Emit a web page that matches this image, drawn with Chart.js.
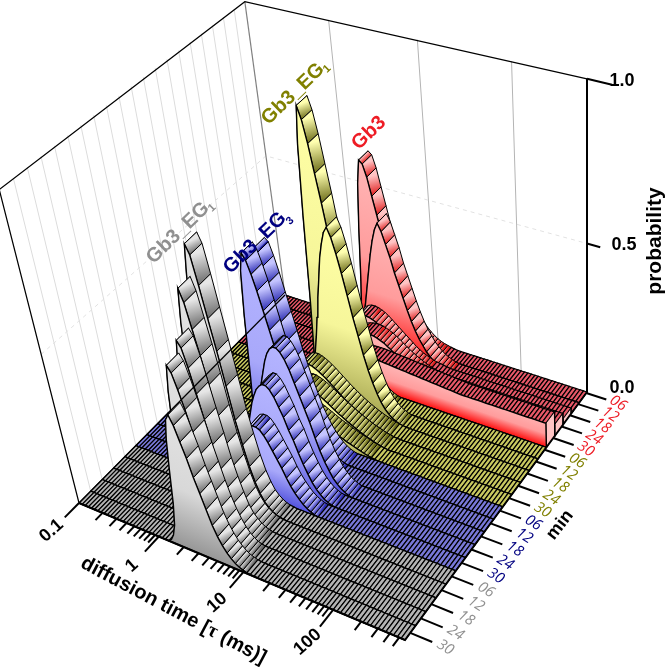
<!DOCTYPE html>
<html>
<head>
<meta charset="utf-8">
<title>diffusion time waterfall</title>
<script src="https://cdn.jsdelivr.net/npm/chart.js@4"></script>
<style>
html, body { margin: 0; padding: 0; background: #fff; }
canvas { display: block; }
</style>
</head>
<body>
<canvas id="waterfall" width="666" height="667"></canvas>
<script>
// correlator lag times (ms), one channel per face of a ribbon
const tauGrid = [
    0.100,0.110,0.120,0.132,0.145,0.158,0.174,0.191,0.209,0.229,0.251,0.275,0.302,0.331,0.363,0.398,0.437,0.479,0.525,0.575,0.631,0.692,0.759,0.832,0.912,
    1.00,1.10,1.20,1.32,1.45,1.58,1.74,1.91,2.09,2.29,2.51,2.75,3.02,3.31,3.63,3.98,4.37,4.79,5.25,5.75,6.31,6.92,7.59,8.32,9.12,
    10.0,11.0,12.0,13.2,14.5,15.8,17.4,19.1,20.9,22.9,25.1,27.5,30.2,33.1,36.3,39.8,43.7,47.9,52.5,57.5,63.1,69.2,75.9,83.2,91.2,
    100,110,120,132,145,158,174,191,209,229,251,275,302,331,363,398,437,479,525,575
];

const groupNames = ["Gb3", "Gb3_EG", "Gb3_EG", "Gb3_EG"];
const groupSubs = ["", "1", "3", "1"];
const minLabels = ["06", "12", "18", "24", "30"];
const tauMajor = [0.1, 1, 10, 100];
const tauMinor = [0.2,0.3,0.4,0.5,0.6,0.7,0.8,0.9,2,3,4,5,6,7,8,9,20,30,40,50,60,70,80,90,200,300,400,500];
const probTicks = ["0.0", "0.5", "1.0"];

// probability per channel; each list begins at the channel in seriesStart, and holds its last value to the end
const red06 = [.02,.06,.19,.38,.53,.61,.6,.56,.5,.44,.38,.32,.27,.22,.18,.14,.11,.085,.065,.05,.038,.028,.02,.014,.01,.007,.004,.002,0];
const red12 = [.01,.02,.04,.07,.11,.16,.22,.28,.34,.39,.43,.455,.43,.39,.35,.3,.26,.22,.18,.145,.115,.09,.07,.052,.038,.027,.018,.012,.007,.003,0];
const red18 = [.01,.03,.06,.09,.115,.135,.148,.156,.16,.16,.158,.154,.148,.14,.13,.12,.11,.1,.09,.08,.07,.06,.052,.045,.04,.035,.031,.028,.026,.024,.022,.02];
const red24 = [.01,.03,.06,.09,.11,.125,.135,.14,.143,.145,.145,.143,.14,.135,.13,.122,.114,.105,.096,.088,.08,.073,.067,.061,.056,.052,.048,.045,.042,.04];
const red30 = [.02,.05,.08,.095,.103,.107,.109,.11,.11,.11,.109,.108,.107,.106,.105,.104,.103,.102,.101,.1,.099,.098,.097,.096,.095,.094,.093,.092,.091,.09,.089,.088,.087,.086,.085];
const olive06 = [.03,.09,.29,.58,.81,.93,.89,.82,.73,.64,.54,.45,.37,.29,.22,.16,.12,.085,.06,.04,.026,.015,.008,.003,0];
const olive12 = [.01,.02,.04,.07,.11,.16,.22,.29,.36,.43,.5,.55,.59,.61,.58,.53,.47,.4,.33,.27,.21,.16,.12,.085,.06,.04,.026,.016,.009,.004,.001,0];
const olive18 = [.02,.05,.08,.11,.13,.145,.155,.16,.16,.157,.152,.145,.137,.128,.118,.108,.098,.088,.079,.07,.062,.054,.047,.04,.034,.028,.023,.018,.014,.01,.007,.004,.002,0];
const olive24 = [.01,.03,.055,.08,.1,.113,.122,.128,.13,.13,.127,.122,.116,.109,.101,.093,.085,.077,.069,.062,.055,.048,.042,.036,.03,.025,.02,.016,.012,.008,.005,.002,0];
const olive30 = [.01,.025,.045,.065,.08,.09,.096,.1,.1,.098,.095,.09,.085,.08,.074,.068,.062,.056,.05,.045,.04,.035,.03,.026,.022,.018,.014,.01,.007,.004,.002,0];
const blue06 = [.03,.09,.24,.45,.6,.65,.64,.6,.55,.49,.43,.37,.31,.26,.21,.17,.13,.1,.075,.055,.038,.025,.015,.008,.003,0];
const blue12 = [.03,.09,.25,.46,.61,.67,.65,.61,.56,.5,.44,.38,.32,.27,.22,.17,.13,.1,.075,.055,.038,.025,.015,.008,.003,0];
const blue18 = [.01,.03,.06,.1,.15,.2,.25,.3,.34,.38,.41,.43,.44,.44,.43,.41,.38,.34,.3,.26,.22,.17,.13,.095,.068,.046,.03,.018,.01,.004,0];
const blue24 = [.01,.02,.04,.07,.11,.15,.19,.23,.27,.3,.325,.34,.35,.35,.34,.32,.29,.26,.22,.19,.15,.115,.085,.06,.04,.026,.015,.008,.003,0];
const blue30 = [.01,.02,.04,.065,.09,.12,.15,.18,.205,.225,.24,.245,.245,.24,.225,.205,.18,.155,.13,.1,.075,.055,.038,.025,.015,.008,.003,0];
const gray06 = [.03,.09,.26,.52,.74,.84,.81,.72,.62,.52,.41,.3,.22,.15,.1,.065,.04,.025,.015,.008,.004,.002,0];
const gray12 = [.02,.08,.22,.44,.63,.74,.7,.62,.54,.45,.35,.26,.19,.13,.085,.055,.035,.022,.013,.007,.003,.001,0];
const gray18 = [.02,.06,.18,.37,.53,.62,.6,.54,.46,.38,.3,.22,.16,.11,.07,.045,.03,.018,.01,.005,.002,0];
const gray24 = [.02,.06,.17,.34,.49,.58,.56,.51,.45,.38,.31,.25,.19,.14,.1,.07,.045,.028,.016,.008,.003,0];
const gray30 = [.01,.03,.07,.15,.27,.38,.45,.47,.44,.39,.34,.28,.23,.18,.13,.095,.068,.047,.032,.02,.012,.007,.003,.001,0];

const seriesValues = [red06,red12,red18,red24,red30,olive06,olive12,olive18,olive24,olive30,blue06,blue12,blue18,blue24,blue30,gray06,gray12,gray18,gray24,gray30];
const seriesStart = [28,29,28,31,36,28,28,26,27,28,28,28,30,29,29,28,28,29,29,29];

// colours per group
const wallTop = ["#ffb6b6", "#ffffa6", "#b4b4ff", "#e2e2e2"];
const wallMid = ["#ff9c9c", "#f6f69a", "#a8a8fa", "#d8d8d8"];
const wallBottom = ["#ff0c0c", "#a6a650", "#5252dc", "#969696"];
const faceLight = ["#ffc4c4", "#ffffb0", "#c4c4ff", "#e6e6e6"];
const faceDark = ["#e01c1c", "#6c6c18", "#2c2cb4", "#6a6a6a"];
const flatFill = ["#e85868", "#c8c860", "#7878d8", "#b4b4b4"];
const labelColor = ["#ee1c25", "#808000", "#000080", "#909090"];

// corners of the floor on the page, and the point the vertical lines run to
const cornerBackLeft = [285, 295], cornerBackRight = [587, 392], cornerFrontRight = [405, 640], cornerFrontLeft = [79, 503];
const nadir = [587, 2500];
const liftBackLeft = .12, liftBackRight = .134, liftFrontRight = .1443, liftFrontLeft = .1416;

function squareToQuad(p0, p1, p2, p3) {
    const dx1 = p1[0]-p2[0], dx2 = p3[0]-p2[0], sx = p0[0]-p1[0]+p2[0]-p3[0];
    const dy1 = p1[1]-p2[1], dy2 = p3[1]-p2[1], sy = p0[1]-p1[1]+p2[1]-p3[1];
    const den = dx1*dy2-dx2*dy1;
    const g = (sx*dy2-dx2*sy)/den, h = (dx1*sy-sx*dy1)/den;
    return [p1[0]-p0[0]+g*p1[0], p3[0]-p0[0]+h*p3[0], p0[0], p1[1]-p0[1]+g*p1[1], p3[1]-p0[1]+h*p3[1], p0[1], g, h];
}
const floorMap = squareToQuad(cornerBackLeft, cornerBackRight, cornerFrontRight, cornerFrontLeft);

function project(u, v, p) {
    const m = floorMap;
    const w = m[6]*u+m[7]*v+1;
    const fx = (m[0]*u+m[1]*v+m[2])/w, fy = (m[3]*u+m[4]*v+m[5])/w;
    const a = liftBackLeft*(1-u)*(1-v)+liftBackRight*u*(1-v)+liftFrontRight*u*v+liftFrontLeft*(1-u)*v;
    const k = a*p/(1-.098*p);
    return {x: fx+(fx-nadir[0])*k, y: fy+(fy-nadir[1])*k};
}

const tauSpan = Math.log10(tauGrid[tauGrid.length-1]/tauGrid[0]);
const tauToU = t => Math.log10(t/tauGrid[0])/tauSpan;
const minTickV = i => .005+.97*i/19;
const valueAt = (s, c) => {
    const vals = seriesValues[s], i = c-seriesStart[s];
    if (i < 0) return 0;
    return i < vals.length ? vals[i] : vals[vals.length-1];
};

const canvas = document.getElementById("waterfall");
const ctx2d = canvas.getContext("2d");
const datasets = [];

function addLine(points, color, width, dash) {
    datasets.push({data: points, showLine: true, fill: false, pointRadius: 0, borderColor: color, borderWidth: width, borderDash: dash || [], tension: 0});
}
function addShape(points, bg, edge, width) {
    datasets.push({data: points, showLine: true, fill: "shape", pointRadius: 0, backgroundColor: bg, borderColor: edge, borderWidth: width, tension: 0});
}
function gradient(a, b, c0, c1, mid) {
    const g = ctx2d.createLinearGradient(a.x, a.y, b.x, b.y);
    g.addColorStop(0, c0);
    if (mid) g.addColorStop(.55, mid);
    g.addColorStop(1, c1);
    return g;
}

// walls
for (let i = 1; i < 20; i++) {
    addLine([project(0, i/20, 0), project(0, i/20, 1)], "#dcdcdc", 1);
}
[1, 10, 100].forEach(t => addLine([project(tauToU(t), 0, 0), project(tauToU(t), 0, 1)], "#b4b4b4", 1));
addLine([project(0, 1, .5), project(0, 0, .5), project(1, 0, .5)], "#e2e2e2", 1, [4, 4]);
addLine([project(0, 0, 0), project(0, 0, 1)], "#808080", 1.2);
addLine([project(0, 1, 0), project(0, 1, 1), project(0, 0, 1), project(1, 0, 1)], "#000", 1.2);

// ribbons, back to front
const last = tauGrid.length-1;
for (let s = 0; s < 20; s++) {
    const g = Math.floor(s/5);
    const vBack = s/20, vFront = (s+1)/20;
    for (let c = 0; c < last; c++) {
        const u0 = tauToU(tauGrid[c]), u1 = tauToU(tauGrid[c+1]);
        const p0 = valueAt(s, c), p1 = valueAt(s, c+1);
        const a = project(u0, vFront, p0), b = project(u1, vFront, p1), e = project(u1, vBack, p1), d = project(u0, vBack, p0);
        const up = a.y <= b.y ? a : b, down = a.y <= b.y ? b : a;
        if (Math.abs(p1-p0) < .0025) {
            addShape([a, b, e, d, a], flatFill[g], "#000", 1.2);
        } else {
            addShape([a, b, e, d, a], gradient(up, down, faceLight[g], faceDark[g]), "#000", 1);
        }
    }
    const endTop = project(1, vFront, valueAt(s, last));
    const endBack = project(1, vBack, valueAt(s, last));
    addShape([endTop, endBack, project(1, vBack, 0), project(1, vFront, 0), endTop], faceLight[g], "#000", .9);

    const wall = [];
    let peak = 0, peakU = 0;
    for (let c = 0; c <= last; c++) {
        const u = tauToU(tauGrid[c]), p = valueAt(s, c);
        wall.push(project(u, vFront, p));
        if (p > peak) { peak = p; peakU = u; }
    }
    wall.push(project(1, vFront, 0), project(0, vFront, 0), wall[0]);
    const f0 = project(0, vFront, 0), f1 = project(1, vFront, 0), top = project(peakU, vFront, peak);
    const len = Math.hypot(f1.x-f0.x, f1.y-f0.y), nx = -(f1.y-f0.y)/len, ny = (f1.x-f0.x)/len;
    const dist = (f0.x-top.x)*nx+(f0.y-top.y)*ny;
    addShape(wall, gradient(top, {x: top.x+nx*dist, y: top.y+ny*dist}, wallTop[g], wallBottom[g], wallMid[g]), "#000", 1.4);
}

// axes
addLine([project(0, 1, 0), project(1, 1, 0), project(1, 0, 0), project(1, 0, 1)], "#000", 2);
addLine([project(0, 0, 0), project(0, 1, 0)], "#000", 1.2);
tauMajor.forEach(t => addLine([project(tauToU(t), 1, 0), project(tauToU(t), 1.06, 0)], "#000", 2));
tauMinor.forEach(t => addLine([project(tauToU(t), 1, 0), project(tauToU(t), 1.03, 0)], "#000", 2));
for (let i = 0; i < 20; i++) {
    addLine([project(1, minTickV(i), 0), project(1.06, minTickV(i), 0)], "#000", 2);
}
addLine([project(1, 0, 1), project(1.065, 0, 1)], "#000", 2);
addLine([project(1, 0, .5), project(1.037, 0, .5)], "#000", 2);

const textPlugin = {
    id: "labels3d",
    afterDraw(chart) {
        const c = chart.ctx, sx = chart.scales.x, sy = chart.scales.y;
        const put = (txt, x, y, deg, font, color, align) => {
            c.save();
            c.translate(sx.getPixelForValue(x), sy.getPixelForValue(y));
            c.rotate(deg*Math.PI/180);
            c.font = font;
            c.fillStyle = color;
            c.textAlign = align || "center";
            c.textBaseline = "middle";
            c.fillText(txt, 0, 0);
            c.restore();
        };
        const bold = n => "bold "+n+"px 'Liberation Sans', Arial, sans-serif";
        // tau tick labels
        tauMajor.forEach(t => {
            const p = project(tauToU(t), 1.115, 0);
            put(String(t), p.x, p.y, -42, bold(18), "#000");
        });
        // axis title runs along one slanted baseline
        let tx = 82, ty = 562;
        const slope = 28;
        const titleRun = [["diffusion time [", bold(20)], ["\u03c4", "bold 20px 'Liberation Serif', serif"], [" (ms)]", bold(20)]];
        titleRun.forEach(r => {
            put(r[0], tx, ty, slope, r[1], "#000", "left");
            c.font = r[1];
            const w = c.measureText(r[0]).width;
            tx += w*Math.cos(slope*Math.PI/180);
            ty += w*Math.sin(slope*Math.PI/180);
        });
        // min tick labels
        for (let i = 0; i < 20; i++) {
            const p = project(1.095, minTickV(i), 0);
            put(minLabels[i%5], p.x, p.y, 32, "italic 15px 'Open Sans', sans-serif", labelColor[Math.floor(i/5)]);
        }
        put("min", 560, 525, -52, bold(18), "#000");
        // probability axis
        put(probTicks[0], 622, 388, 0, bold(18), "#000");
        put(probTicks[1], 624, 245, 0, bold(18), "#000");
        put(probTicks[2], 622, 81, 0, bold(18), "#000");
        put("probability", 655, 241, -90, bold(21), "#000");
        // group names
        put(groupNames[0], 369, 133, -44, bold(20), labelColor[0]);
        put(groupNames[1], 293, 94, -44, bold(20), labelColor[1]);
        put(groupSubs[1], 327, 69, -44, bold(11), labelColor[1]);
        put(groupNames[2], 255, 243, -44, bold(20), labelColor[2]);
        put(groupSubs[2], 290, 221, -44, bold(11), labelColor[2]);
        put(groupNames[3], 178, 233, -44, bold(20), labelColor[3]);
        put(groupSubs[3], 212, 208, -44, bold(11), labelColor[3]);
    }
};

new Chart(ctx2d, {
    type: "scatter",
    data: {datasets: datasets.reverse()},
    options: {
        responsive: false,
        animation: false,
        events: [],
        layout: {padding: 0},
        plugins: {legend: {display: false}, tooltip: {enabled: false}, title: {display: false}},
        scales: {
            x: {type: "linear", min: 0, max: 666, display: false},
            y: {type: "linear", min: 0, max: 667, reverse: true, display: false}
        }
    },
    plugins: [textPlugin]
});
</script>
</body>
</html>
